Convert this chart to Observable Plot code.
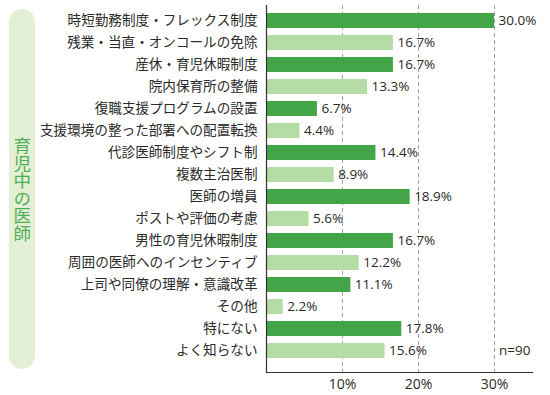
<!DOCTYPE html>
<html>
<head>
<meta charset="utf-8">
<script src="https://cdn.jsdelivr.net/npm/d3@7"></script>
<script src="https://cdn.jsdelivr.net/npm/@observablehq/plot@0.6"></script>
<style>
  html, body { margin: 0; padding: 0; background: #fff; }
  #wrap { position: relative; width: 550px; height: 395px; }
  #pill {
    position: absolute; left: 9px; top: 9px; width: 26px; height: 360px;
    background: #e3f0d6; border-radius: 13px;
    display: flex; align-items: center; justify-content: center;
  }
  #pill span {
    writing-mode: vertical-rl; color: #4fae52;
    font-family: "Noto Sans CJK JP", sans-serif; font-size: 17.5px; line-height: 1;
  }
  svg { position: absolute; left: 0; top: 0; }
</style>
</head>
<body>
<div id="wrap"><div id="pill"><span id="group"></span></div></div>
<script>
const groupLabel = "育児中の医師";
const categories = [
  "時短勤務制度・フレックス制度",
  "残業・当直・オンコールの免除",
  "産休・育児休暇制度",
  "院内保育所の整備",
  "復職支援プログラムの設置",
  "支援環境の整った部署への配置転換",
  "代診医師制度やシフト制",
  "複数主治医制",
  "医師の増員",
  "ポストや評価の考慮",
  "男性の育児休暇制度",
  "周囲の医師へのインセンティブ",
  "上司や同僚の理解・意識改革",
  "その他",
  "特にない",
  "よく知らない"
];
const values = [30.0, 16.7, 16.7, 13.3, 6.7, 4.4, 14.4, 8.9, 18.9, 5.6, 16.7, 12.2, 11.1, 2.2, 17.8, 15.6];
const xTicks = [10, 20, 30];
const note = "n=90";

document.getElementById("group").textContent = groupLabel;

const data = categories.map((c, i) => ({cat: c, value: values[i], shade: i % 2 === 0 ? "dark" : "light"}));
const fontJP = "'Noto Sans CJK JP', sans-serif";
const fontNum = "'Open Sans', sans-serif";

const chart = Plot.plot({
  width: 550,
  height: 395,
  marginLeft: 266,
  marginRight: 18,
  marginTop: 5,
  marginBottom: 23,
  style: {background: "transparent", color: "#333"},
  x: {domain: [0, 35]},
  y: {domain: categories, paddingInner: 0.333, paddingOuter: 0.167, insetBottom: 7},
  color: {domain: ["dark", "light"], range: ["#43a547", "#b5dca5"]},
  marks: [
    Plot.gridX(xTicks, {stroke: "#888", strokeOpacity: 1, strokeDasharray: "4,3", strokeWidth: 0.8}),
    Plot.barX(data, {x: "value", y: "cat", fill: "shade"}),
    Plot.text(data, {x: "value", y: "cat", text: d => d.value.toFixed(1) + "%", textAnchor: "start", dx: 4,
      fontSize: 13.5, fontFamily: fontNum, fill: "#2a2a2a"}),
    Plot.text([note], {frameAnchor: "right", y: () => categories[categories.length - 1], text: d => d, textAnchor: "end", dx: -2,
      fontSize: 13.5, fontFamily: fontNum, fill: "#2a2a2a"}),
    Plot.ruleX([0], {stroke: "#333", strokeWidth: 1.2}),
    Plot.frame({anchor: "bottom", stroke: "#333", strokeWidth: 1.2}),
    Plot.axisY({tickSize: 0, tickPadding: 9, fontSize: 13.6, fontFamily: fontJP, label: null, fill: "#2a2a2a"}),
    Plot.axisX(xTicks, {tickSize: 0, tickPadding: 7, fontSize: 14, fontFamily: fontNum, tickFormat: d => d + "%", label: null, fill: "#2a2a2a"})
  ]
});
document.getElementById("wrap").appendChild(chart);
</script>
</body>
</html>
